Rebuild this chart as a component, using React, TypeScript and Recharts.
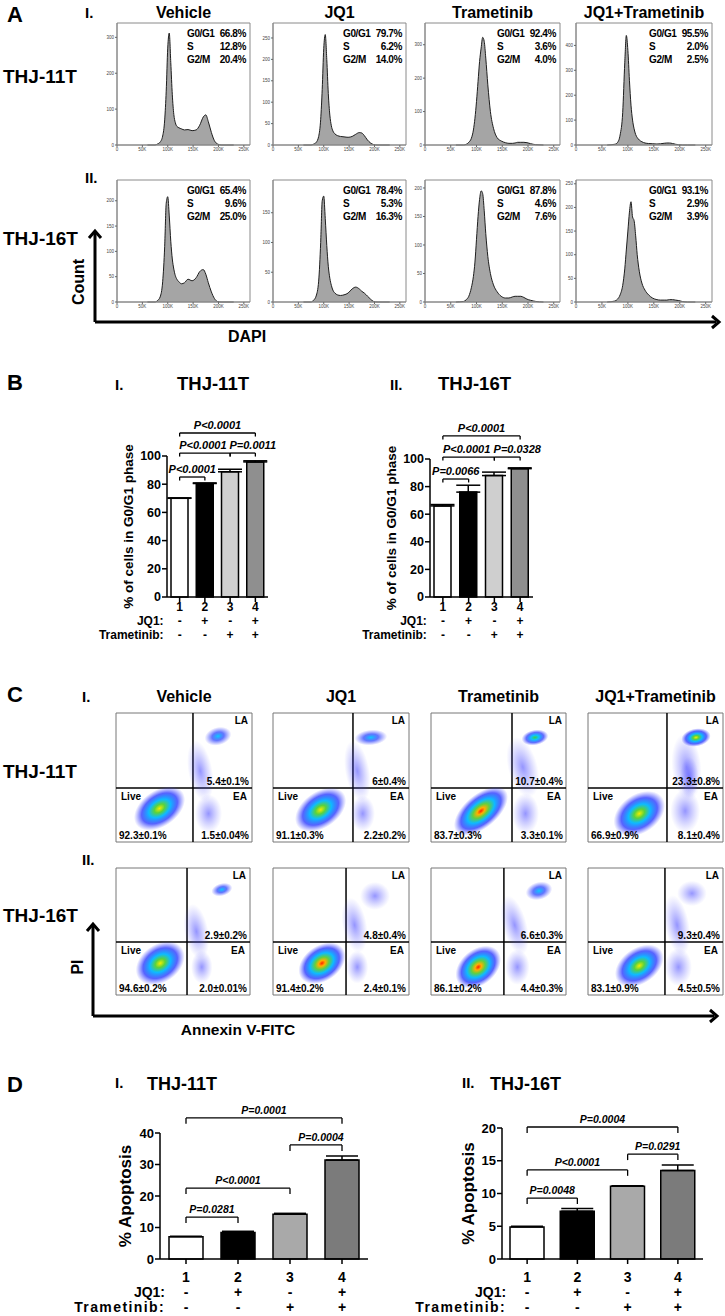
import React from 'react';
import {
  AreaChart, Area, BarChart, Bar, Cell, ErrorBar, ScatterChart, Scatter,
  XAxis, YAxis, ReferenceLine, ReferenceArea,
} from 'recharts';

// ---- A: DAPI histograms (counts read at a shared DAPI grid, in K) ----
const DAPI_K = [60, 75, 80, 85, 90, 94, 97, 100, 103, 106, 109, 112, 115, 118, 122, 127, 133, 140, 148, 156, 163, 170, 175, 180, 186, 192, 198, 205, 215, 230];

const H11_VEH = [0, 0, 3, 8, 25, 70, 150, 270, 312, 230, 140, 85, 62, 52, 48, 45, 42, 43, 40, 42, 55, 78, 84, 65, 35, 12, 3, 0, 0, 0];
const H11_JQ1 = [0, 0, 2, 6, 20, 60, 130, 225, 258, 200, 120, 70, 45, 33, 26, 22, 20, 19, 18, 20, 25, 29, 28, 22, 12, 5, 1, 0, 0, 0];
const H11_TRAM = [0, 0, 2, 8, 20, 45, 80, 130, 190, 250, 290, 322, 310, 260, 180, 100, 50, 22, 12, 7, 5, 5, 6, 8, 8, 8, 7, 4, 1, 0];
const H11_COMBO = [0, 3, 10, 40, 130, 330, 440, 380, 260, 160, 100, 65, 42, 30, 20, 13, 8, 6, 5, 4, 5, 7, 8, 8, 6, 3, 1, 0, 0, 0];
const H16_VEH = [0, 0, 3, 10, 40, 110, 195, 208, 170, 120, 85, 65, 52, 45, 40, 36, 38, 45, 42, 48, 60, 64, 55, 38, 20, 7, 1, 0, 0, 0];
const H16_JQ1 = [0, 0, 3, 10, 35, 100, 170, 178, 140, 95, 60, 40, 28, 20, 15, 12, 11, 12, 15, 22, 25, 22, 18, 15, 10, 5, 1, 0, 0, 0];
const H16_TRAM = [0, 1, 4, 10, 25, 45, 70, 110, 150, 180, 195, 190, 160, 120, 80, 50, 30, 18, 10, 7, 7, 9, 10, 10, 10, 8, 5, 3, 1, 0];
const H16_COMBO = [0, 2, 6, 15, 35, 70, 110, 150, 190, 212, 180, 172, 140, 100, 65, 40, 25, 15, 8, 5, 4, 4, 4, 5, 5, 4, 3, 1, 0, 0];

const HIST_YMAX = [[340, 285, 365, 490], [241, 205, 214, 258]];
const HIST_YTICKS = [
  [[0, 100, 200, 300], [0, 50, 100, 150, 200, 250], [0, 100, 200, 300], [0, 100, 200, 300, 400]],
  [[0, 50, 100, 150, 200], [0, 50, 100, 150], [0, 50, 100, 150, 200], [0, 50, 100, 150, 200, 250]],
];
const HIST_XTICKS = [0, 50000, 100000, 150000, 200000, 250000];

const G1_11T = ['66.8%', '79.7%', '92.4%', '95.5%'];
const S_11T = ['12.8%', '6.2%', '3.6%', '2.0%'];
const G2M_11T = ['20.4%', '14.0%', '4.0%', '2.5%'];
const G1_16T = ['65.4%', '78.4%', '87.8%', '93.1%'];
const S_16T = ['9.6%', '5.3%', '4.6%', '2.9%'];
const G2M_16T = ['25.0%', '16.3%', '7.6%', '3.9%'];

const TREATMENTS = ['Vehicle', 'JQ1', 'Trametinib', 'JQ1+Trametinib'];

// ---- B / D: bar charts ----
const GROUPS = ['1', '2', '3', '4'];
const JQ1_SIGNS = ['-', '+', '-', '+'];
const TRAM_SIGNS = ['-', '-', '+', '+'];

const G1_PCT_11T = [70, 80.5, 88.8, 95.8];
const G1_ERR_11T = [0.3, 0.4, 1.8, 0.8];
const G1_PCT_16T = [66, 76, 88, 93];
const G1_ERR_16T = [1, 5, 2.5, 0.6];

const APO_11T = [7.1, 8.4, 14.2, 31.4];
const APO_ERR_11T = [0.1, 0.4, 0.3, 1.3];
const APO_16T = [4.9, 7.3, 11.1, 13.5];
const APO_ERR_16T = [0.1, 0.4, 0.1, 0.85];

const BRACKETS_B11 = [
  { from: '1', to: '4', y: 116.3, label: 'P<0.0001' },
  { from: '1', to: '3', y: 102.1, label: 'P<0.0001' },
  { from: '3', to: '4', y: 102.1, label: 'P=0.0011' },
  { from: '1', to: '2', y: 85.1, label: 'P<0.0001' },
];
const BRACKETS_B16 = [
  { from: '1', to: '4', y: 116.7, label: 'P<0.0001' },
  { from: '1', to: '3', y: 101.4, label: 'P<0.0001' },
  { from: '3', to: '4', y: 101.4, label: 'P=0.0328' },
  { from: '1', to: '2', y: 85.5, label: 'P=0.0066' },
];
const BRACKETS_D11 = [
  { from: '1', to: '4', y: 44.8, label: 'P=0.0001' },
  { from: '3', to: '4', y: 36.2, label: 'P=0.0004' },
  { from: '1', to: '3', y: 22.5, label: 'P<0.0001' },
  { from: '1', to: '2', y: 13.3, label: 'P=0.0281' },
];
const BRACKETS_D16 = [
  { from: '1', to: '4', y: 20.15, label: 'P=0.0004' },
  { from: '3', to: '4', y: 16.0, label: 'P=0.0291' },
  { from: '1', to: '3', y: 13.6, label: 'P<0.0001' },
  { from: '1', to: '2', y: 9.3, label: 'P=0.0048' },
];

// ---- C: annexin / PI populations (x, y in % of axis; sx, sy spread) ----
const FLOW_11T = [
  [{ x: 32, y: 26, sx: 21, sy: 14, tilt: 35, peak: 4 }, { x: 75, y: 82, sx: 10, sy: 7, tilt: 15, peak: 2 }, { x: 62, y: 55, sx: 9, sy: 24, tilt: 10, peak: 1 }, { x: 68, y: 22, sx: 10, sy: 15, tilt: 0, peak: 1 }],
  [{ x: 35, y: 25, sx: 21, sy: 14, tilt: 35, peak: 4 }, { x: 72, y: 81, sx: 12, sy: 6, tilt: 5, peak: 2 }, { x: 62, y: 55, sx: 9, sy: 24, tilt: 10, peak: 1 }, { x: 66, y: 22, sx: 9, sy: 14, tilt: 0, peak: 1 }],
  [{ x: 37, y: 24, sx: 24, sy: 13, tilt: 40, peak: 5 }, { x: 77, y: 81, sx: 10, sy: 6, tilt: 10, peak: 3 }, { x: 68, y: 58, sx: 11, sy: 24, tilt: 15, peak: 1 }, { x: 70, y: 22, sx: 10, sy: 16, tilt: 0, peak: 1 }],
  [{ x: 38, y: 22, sx: 21, sy: 15, tilt: 35, peak: 4 }, { x: 80, y: 81, sx: 11, sy: 7, tilt: 10, peak: 4 }, { x: 73, y: 58, sx: 11, sy: 26, tilt: 5, peak: 1 }, { x: 75, y: 50, sx: 7, sy: 16, tilt: 0, peak: 1 }, { x: 72, y: 24, sx: 11, sy: 17, tilt: 0, peak: 1 }],
];
const FLOW_16T = [
  [{ x: 33, y: 25, sx: 20, sy: 15, tilt: 35, peak: 4 }, { x: 79, y: 83, sx: 8, sy: 5, tilt: 15, peak: 2 }, { x: 60, y: 50, sx: 9, sy: 22, tilt: 10, peak: 1 }, { x: 64, y: 22, sx: 8, sy: 13, tilt: 0, peak: 1 }],
  [{ x: 36, y: 25, sx: 19, sy: 14, tilt: 35, peak: 5 }, { x: 75, y: 78, sx: 11, sy: 11, tilt: 0, peak: 1 }, { x: 60, y: 55, sx: 9, sy: 22, tilt: 10, peak: 1 }, { x: 62, y: 22, sx: 8, sy: 13, tilt: 0, peak: 1 }],
  [{ x: 35, y: 22, sx: 19, sy: 14, tilt: 40, peak: 5 }, { x: 80, y: 82, sx: 10, sy: 7, tilt: 15, peak: 2 }, { x: 62, y: 55, sx: 9, sy: 24, tilt: 15, peak: 1 }, { x: 64, y: 22, sx: 9, sy: 14, tilt: 0, peak: 1 }],
  [{ x: 38, y: 23, sx: 20, sy: 14, tilt: 35, peak: 4 }, { x: 77, y: 80, sx: 11, sy: 10, tilt: 0, peak: 1 }, { x: 66, y: 55, sx: 9, sy: 24, tilt: 10, peak: 1 }, { x: 67, y: 22, sx: 10, sy: 15, tilt: 0, peak: 1 }],
];
const GATE_X = [[56.6, 58.8, 60, 58.5], [53, 53.7, 54, 57]];
const GATE_Y = [41.9, 41.7];

const LA_11T = ['5.4±0.1%', '6±0.4%', '10.7±0.4%', '23.3±0.8%'];
const LIVE_11T = ['92.3±0.1%', '91.1±0.3%', '83.7±0.3%', '66.9±0.9%'];
const EA_11T = ['1.5±0.04%', '2.2±0.2%', '3.3±0.1%', '8.1±0.4%'];
const LA_16T = ['2.9±0.2%', '4.8±0.4%', '6.6±0.3%', '9.3±0.4%'];
const LIVE_16T = ['94.6±0.2%', '91.4±0.2%', '86.1±0.2%', '83.1±0.9%'];
const EA_16T = ['2.0±0.01%', '2.4±0.1%', '4.4±0.3%', '4.5±0.5%'];

// ---- layout ----
const HIST_COLS = [[117, 250], [273, 406], [425, 560], [576, 712]];
const HIST_ROWS = [[23, 145], [180, 302]];
const FLOW_COLS = [
  [[116, 252], [273, 409], [431, 566], [588, 723]],
  [[116, 250], [273, 409], [431, 566], [588, 723]],
];
const FLOW_ROWS = [[713, 842], [868, 995]];
const FONT = '"Liberation Sans", Arial, sans-serif';

function Histogram({ counts, yMax, yTicks, box }) {
  const [l, t, r, b] = box;
  const data = DAPI_K.map((k, i) => ({ dapi: k * 1000, count: counts[i] }));
  const yW = 18, xH = 12;
  return (
    <div style={{ position: 'absolute', left: l - yW, top: t - 1 }}>
      <AreaChart width={r - l + yW + 2} height={b - t + 1 + xH} data={data} margin={{ top: 1, right: 2, left: 0, bottom: 0 }}>
        <XAxis type="number" dataKey="dapi" domain={[0, 262144]} ticks={HIST_XTICKS} interval={0}
          tickFormatter={(v) => (v === 0 ? '0' : `${v / 1000}K`)} height={xH} tickSize={2} tickMargin={1}
          tick={{ fontSize: 4.5, fill: '#444' }} axisLine={{ stroke: '#888' }} tickLine={{ stroke: '#666' }} />
        <YAxis type="number" domain={[0, yMax]} ticks={yTicks} width={yW} tickSize={2} tickMargin={1}
          tick={{ fontSize: 4.5, fill: '#444' }} axisLine={{ stroke: '#888' }} tickLine={{ stroke: '#666' }} />
        <Area type="monotone" dataKey="count" stroke="#1e1e1e" strokeWidth={1} fill="#a5a5a5" fillOpacity={1} isAnimationActive={false} />
        <ReferenceArea x1={0} x2={262144} y1={0} y2={yMax} fill="none" stroke="#8a8a8a" strokeWidth={1} />
      </AreaChart>
    </div>
  );
}

function BarPanel({ values, errors, fills, yMax, yTicks, plot, labelCentre, div, barSize, capWidth, brackets, labelShift, drop, yLabel, yLabelSize, tickSize, rowSize, pSize, rows, rowGap, tramSpacing }) {
  const [pl, pt, pr, pb] = plot;
  const [dl, dt, dr, db] = div;
  const data = GROUPS.map((g, i) => ({ group: g, value: values[i], err: [0, errors[i]] }));
  const axisX = labelCentre - 5;
  const renderTick = (p) => {
    const i = GROUPS.indexOf(p.payload.value);
    const base = p.y - 7;
    return (
      <g fontWeight="bold" fill="#000" fontFamily={FONT}>
        <text x={p.x} y={base + rows[0]} textAnchor="middle" fontSize={rowSize}>{p.payload.value}</text>
        <text x={p.x} y={base + rows[1]} textAnchor="middle" fontSize={rowSize}>{JQ1_SIGNS[i]}</text>
        <text x={p.x} y={base + rows[2]} textAnchor="middle" fontSize={rowSize}>{TRAM_SIGNS[i]}</text>
        {i === 0 && (
          <>
            <text x={p.x - rowGap} y={base + rows[1]} textAnchor="end" fontSize={rowSize}>JQ1:</text>
            <text x={p.x - rowGap} y={base + rows[2]} textAnchor="end" fontSize={rowSize} letterSpacing={tramSpacing}>Trametinib:</text>
          </>
        )}
      </g>
    );
  };
  const lines = brackets.flatMap((br, k) => {
    const shift = labelShift[k] || 0;
    const pLabel = (p) => (
      <text x={p.viewBox.x + p.viewBox.width / 2 + shift} y={p.viewBox.y - 4} textAnchor="middle"
        fontSize={pSize} fontWeight="bold" fontStyle="italic" fill="#000" fontFamily={FONT}>{br.label}</text>
    );
    return [
      <ReferenceLine key={`h${k}`} segment={[{ x: br.from, y: br.y }, { x: br.to, y: br.y }]} stroke="#000" strokeWidth={1.3} ifOverflow="visible" label={pLabel} />,
      <ReferenceLine key={`a${k}`} segment={[{ x: br.from, y: br.y }, { x: br.from, y: br.y - drop }]} stroke="#000" strokeWidth={1.3} ifOverflow="visible" />,
      <ReferenceLine key={`b${k}`} segment={[{ x: br.to, y: br.y }, { x: br.to, y: br.y - drop }]} stroke="#000" strokeWidth={1.3} ifOverflow="visible" />,
    ];
  });
  return (
    <div style={{ position: 'absolute', left: dl, top: dt }}>
      <BarChart width={dr - dl} height={db - dt} data={data} margin={{ top: pt - dt, right: dr - pr, bottom: 0, left: axisX - dl }}>
        <XAxis dataKey="group" type="category" height={db - pb} interval={0} tick={renderTick} tickSize={5}
          axisLine={{ stroke: '#000', strokeWidth: 1.5 }} tickLine={{ stroke: '#000', strokeWidth: 1.5 }} />
        <YAxis type="number" domain={[0, yMax]} ticks={yTicks} width={pl - axisX} tickSize={5} tickMargin={1}
          tick={{ fontSize: tickSize, fontWeight: 'bold', fill: '#000' }}
          axisLine={{ stroke: '#000', strokeWidth: 1.5 }} tickLine={{ stroke: '#000', strokeWidth: 1.5 }}
          label={{ value: yLabel, angle: -90, position: 'insideLeft', offset: 5, fontSize: yLabelSize, fontWeight: 'bold', fill: '#000', style: { textAnchor: 'middle' } }} />
        <Bar dataKey="value" barSize={barSize} stroke="#000" strokeWidth={1.5} isAnimationActive={false}>
          {fills.map((f, i) => <Cell key={i} fill={f} />)}
          <ErrorBar dataKey="err" width={capWidth} stroke="#000" strokeWidth={1.5} direction="y" />
        </Bar>
        {lines}
      </BarChart>
    </div>
  );
}

const Blob = (p) => {
  const { cx, cy, payload, kx, ky } = p;
  return (
    <ellipse cx={cx} cy={cy} rx={payload.sx * kx} ry={payload.sy * ky}
      fill={`url(#dens${payload.peak})`} transform={`rotate(${-payload.tilt} ${cx} ${cy})`} />
  );
};

function FlowPlot({ clusters, box, gx, gy, la, live, ea }) {
  const [l, t, r, b] = box;
  const w = r - l, h = b - t;
  const lab = { fontSize: 10, fontWeight: 'bold', fill: '#000' };
  return (
    <div style={{ position: 'absolute', left: l - 1, top: t - 1 }}>
      <ScatterChart width={w + 2} height={h + 2} margin={{ top: 1, right: 1, bottom: 1, left: 1 }}>
        <XAxis type="number" dataKey="x" domain={[0, 100]} hide />
        <YAxis type="number" dataKey="y" domain={[0, 100]} hide />
        <Scatter data={clusters} isAnimationActive={false} shape={(p) => <Blob {...p} kx={w / 100} ky={h / 100} />} />
        <ReferenceArea x1={0} x2={100} y1={0} y2={100} fill="none" stroke="#777" strokeWidth={1} />
        <ReferenceLine x={gx} stroke="#000" strokeWidth={1.5} />
        <ReferenceLine y={gy} stroke="#000" strokeWidth={1.5} />
        <ReferenceArea x1={gx} x2={100} y1={gy} y2={100} fill="none" stroke="none" label={{ value: 'LA', position: 'insideTopRight', offset: 4, ...lab }} />
        <ReferenceArea x1={gx} x2={100} y1={gy} y2={100} fill="none" stroke="none" label={{ value: la, position: 'insideBottomRight', offset: 3, ...lab }} />
        <ReferenceArea x1={0} x2={gx} y1={0} y2={gy} fill="none" stroke="none" label={{ value: 'Live', position: 'insideTopLeft', offset: 5, ...lab }} />
        <ReferenceArea x1={0} x2={gx} y1={0} y2={gy} fill="none" stroke="none" label={{ value: live, position: 'insideBottomLeft', offset: 3, ...lab }} />
        <ReferenceArea x1={gx} x2={100} y1={0} y2={gy} fill="none" stroke="none" label={{ value: 'EA', position: 'insideTopRight', offset: 5, ...lab }} />
        <ReferenceArea x1={gx} x2={100} y1={0} y2={gy} fill="none" stroke="none" label={{ value: ea, position: 'insideBottomRight', offset: 3, ...lab }} />
      </ScatterChart>
    </div>
  );
}

const T = ({ x, y, s, a = 'start', children }) => (
  <text x={x} y={y} fontSize={s} fontWeight="bold" textAnchor={a} fill="#000">{children}</text>
);

const Gradient = ({ id, stops }) => (
  <radialGradient id={id}>
    {stops.map(([o, c, op], i) => <stop key={i} offset={o} stopColor={c} stopOpacity={op} />)}
  </radialGradient>
);

export default function App() {
  const histCounts = [[H11_VEH, H11_JQ1, H11_TRAM, H11_COMBO], [H16_VEH, H16_JQ1, H16_TRAM, H16_COMBO]];
  const stats = [[G1_11T, S_11T, G2M_11T], [G1_16T, S_16T, G2M_16T]];
  const flow = [FLOW_11T, FLOW_16T];
  const flowLabels = [[LA_11T, LIVE_11T, EA_11T], [LA_16T, LIVE_16T, EA_16T]];
  const bFills = ['#ffffff', '#000000', '#cfcfcf', '#8f8f8f'];
  const dFills = ['#ffffff', '#000000', '#a9a9a9', '#7b7b7b'];
  const bCommon = { yMax: 100, yTicks: [0, 20, 40, 60, 80, 100], fills: bFills, barSize: 17, capWidth: 12, drop: 2.5, labelShift: [0, -2, 10, 0], yLabel: '% of cells in G0/G1 phase', yLabelSize: 13.5, tickSize: 12.5, rowSize: 12, pSize: 11, rows: [14, 28, 42], rowGap: 16, tramSpacing: 0 };
  const dCommon = { fills: dFills, barSize: 34, capWidth: 16, labelShift: [0, 5, 0, 0], yLabel: '% Apoptosis', yLabelSize: 17, tickSize: 13, rowSize: 14, pSize: 10.5, rows: [23, 38, 53], rowGap: 21, tramSpacing: 1.4 };

  return (
    <div style={{ position: 'absolute', left: 0, top: 0, width: 725, height: 1316, background: '#fff', fontFamily: FONT }}>
      <svg width={0} height={0} style={{ position: 'absolute' }}>
        <defs>
          <Gradient id="dens1" stops={[[0, '#2b2bff', 0.5], [1, '#5a5aff', 0]]} />
          <Gradient id="dens2" stops={[[0, '#00c8ff', 0.95], [0.45, '#1f3bff', 0.7], [1, '#4a4aff', 0]]} />
          <Gradient id="dens3" stops={[[0, '#3ad24a', 1], [0.3, '#00c0ff', 0.95], [0.65, '#1f2fff', 0.7], [1, '#4a4aff', 0]]} />
          <Gradient id="dens4" stops={[[0, '#f2ee00', 1], [0.2, '#5ad23c', 1], [0.42, '#00b8ff', 0.95], [0.7, '#1f2fff', 0.75], [1, '#4a4aff', 0]]} />
          <Gradient id="dens5" stops={[[0, '#ff2200', 1], [0.14, '#ffb000', 1], [0.3, '#60d040', 1], [0.5, '#00b8ff', 0.95], [0.74, '#1f2fff', 0.75], [1, '#4a4aff', 0]]} />
        </defs>
      </svg>

      {HIST_ROWS.map(([t, b], ri) => HIST_COLS.map(([l, r], ci) => (
        <Histogram key={`h${ri}${ci}`} counts={histCounts[ri][ci]} yMax={HIST_YMAX[ri][ci]} yTicks={HIST_YTICKS[ri][ci]} box={[l, t, r, b]} />
      )))}

      <BarPanel {...bCommon} values={G1_PCT_11T} errors={G1_ERR_11T} brackets={BRACKETS_B11} plot={[167, 456, 268, 597]} labelCentre={128} div={[60, 405, 295, 650]} />
      <BarPanel {...bCommon} values={G1_PCT_16T} errors={G1_ERR_16T} brackets={BRACKETS_B16} plot={[430, 459, 533, 597]} labelCentre={391} div={[325, 405, 560, 650]} />

      {FLOW_ROWS.map(([t, b], ri) => FLOW_COLS[ri].map(([l, r], ci) => (
        <FlowPlot key={`f${ri}${ci}`} clusters={flow[ri][ci]} box={[l, t, r, b]} gx={GATE_X[ri][ci]} gy={GATE_Y[ri]}
          la={flowLabels[ri][0][ci]} live={flowLabels[ri][1][ci]} ea={flowLabels[ri][2][ci]} />
      )))}

      <BarPanel {...dCommon} values={APO_11T} errors={APO_ERR_11T} brackets={BRACKETS_D11} yMax={40} yTicks={[0, 10, 20, 30, 40]} drop={1.9}
        plot={[160, 1133, 368, 1259]} labelCentre={125} div={[55, 1095, 385, 1316]} />
      <BarPanel {...dCommon} values={APO_16T} errors={APO_ERR_16T} brackets={BRACKETS_D16} yMax={20} yTicks={[0, 5, 10, 15, 20]} drop={0.9}
        plot={[502, 1128, 703, 1259]} labelCentre={468} div={[410, 1095, 722, 1316]} />

      <svg width={725} height={1316} style={{ position: 'absolute', left: 0, top: 0, pointerEvents: 'none' }} fontFamily={FONT}>
        {/* panel A */}
        <T x={7} y={22} s={22}>A</T>
        <T x={85} y={18} s={15}>I.</T>
        {TREATMENTS.map((name, i) => (
          <T key={`ta${i}`} x={(HIST_COLS[i][0] + HIST_COLS[i][1]) / 2} y={18} s={16} a="middle">{name}</T>
        ))}
        <T x={3} y={83} s={19}>THJ-11T</T>
        <T x={85} y={183} s={15}>II.</T>
        <T x={3} y={245} s={19}>THJ-16T</T>
        {HIST_ROWS.map(([t], ri) => HIST_COLS.map(([, r], ci) => (
          <g key={`s${ri}${ci}`} fontSize={10} fontWeight="bold" fill="#000" letterSpacing={-0.4}>
            <text x={r - 63} y={t + 14}>G0/G1</text>
            <text x={r - 4} y={t + 14} textAnchor="end">{stats[ri][0][ci]}</text>
            <text x={r - 63} y={t + 27}>S</text>
            <text x={r - 4} y={t + 27} textAnchor="end">{stats[ri][1][ci]}</text>
            <text x={r - 63} y={t + 40}>G2/M</text>
            <text x={r - 4} y={t + 40} textAnchor="end">{stats[ri][2][ci]}</text>
          </g>
        )))}
        <text x={84} y={282} fontSize={16} fontWeight="bold" textAnchor="middle" transform="rotate(-90 84 282)">Count</text>
        <T x={247} y={342} s={16} a="middle">DAPI</T>
        <path d="M95 322 V233 M95 322 H716" stroke="#000" strokeWidth={3} fill="none" />
        <polyline points="89,238 95,231 101,238" stroke="#000" strokeWidth={3} fill="none" />
        <polyline points="712,316 719,322 712,328" stroke="#000" strokeWidth={3} fill="none" />

        {/* panel B */}
        <T x={7} y={390} s={22}>B</T>
        <T x={115} y={390} s={15}>I.</T>
        <T x={177} y={390} s={18.5}>THJ-11T</T>
        <T x={390} y={390} s={15}>II.</T>
        <T x={438} y={390} s={18.5}>THJ-16T</T>

        {/* panel C */}
        <T x={7} y={702} s={22}>C</T>
        <T x={82} y={702} s={15}>I.</T>
        {TREATMENTS.map((name, i) => (
          <T key={`tc${i}`} x={(FLOW_COLS[0][i][0] + FLOW_COLS[0][i][1]) / 2} y={702} s={16} a="middle">{name}</T>
        ))}
        <T x={3} y={778} s={19}>THJ-11T</T>
        <T x={82} y={865} s={15}>II.</T>
        <T x={3} y={922} s={19}>THJ-16T</T>
        <text x={83} y={967} fontSize={16} fontWeight="bold" textAnchor="middle" transform="rotate(-90 83 967)">PI</text>
        <T x={238} y={1035} s={15.5} a="middle">Annexin V-FITC</T>
        <path d="M93 1016 V926 M93 1016 H714" stroke="#000" strokeWidth={3} fill="none" />
        <polyline points="87,931 93,924 99,931" stroke="#000" strokeWidth={3} fill="none" />
        <polyline points="710,1010 717,1016 710,1022" stroke="#000" strokeWidth={3} fill="none" />

        {/* panel D */}
        <T x={7} y={1092} s={22}>D</T>
        <T x={115} y={1088} s={15}>I.</T>
        <T x={147} y={1090} s={18}>THJ-11T</T>
        <T x={462} y={1088} s={15}>II.</T>
        <T x={490} y={1090} s={18}>THJ-16T</T>
      </svg>
    </div>
  );
}
